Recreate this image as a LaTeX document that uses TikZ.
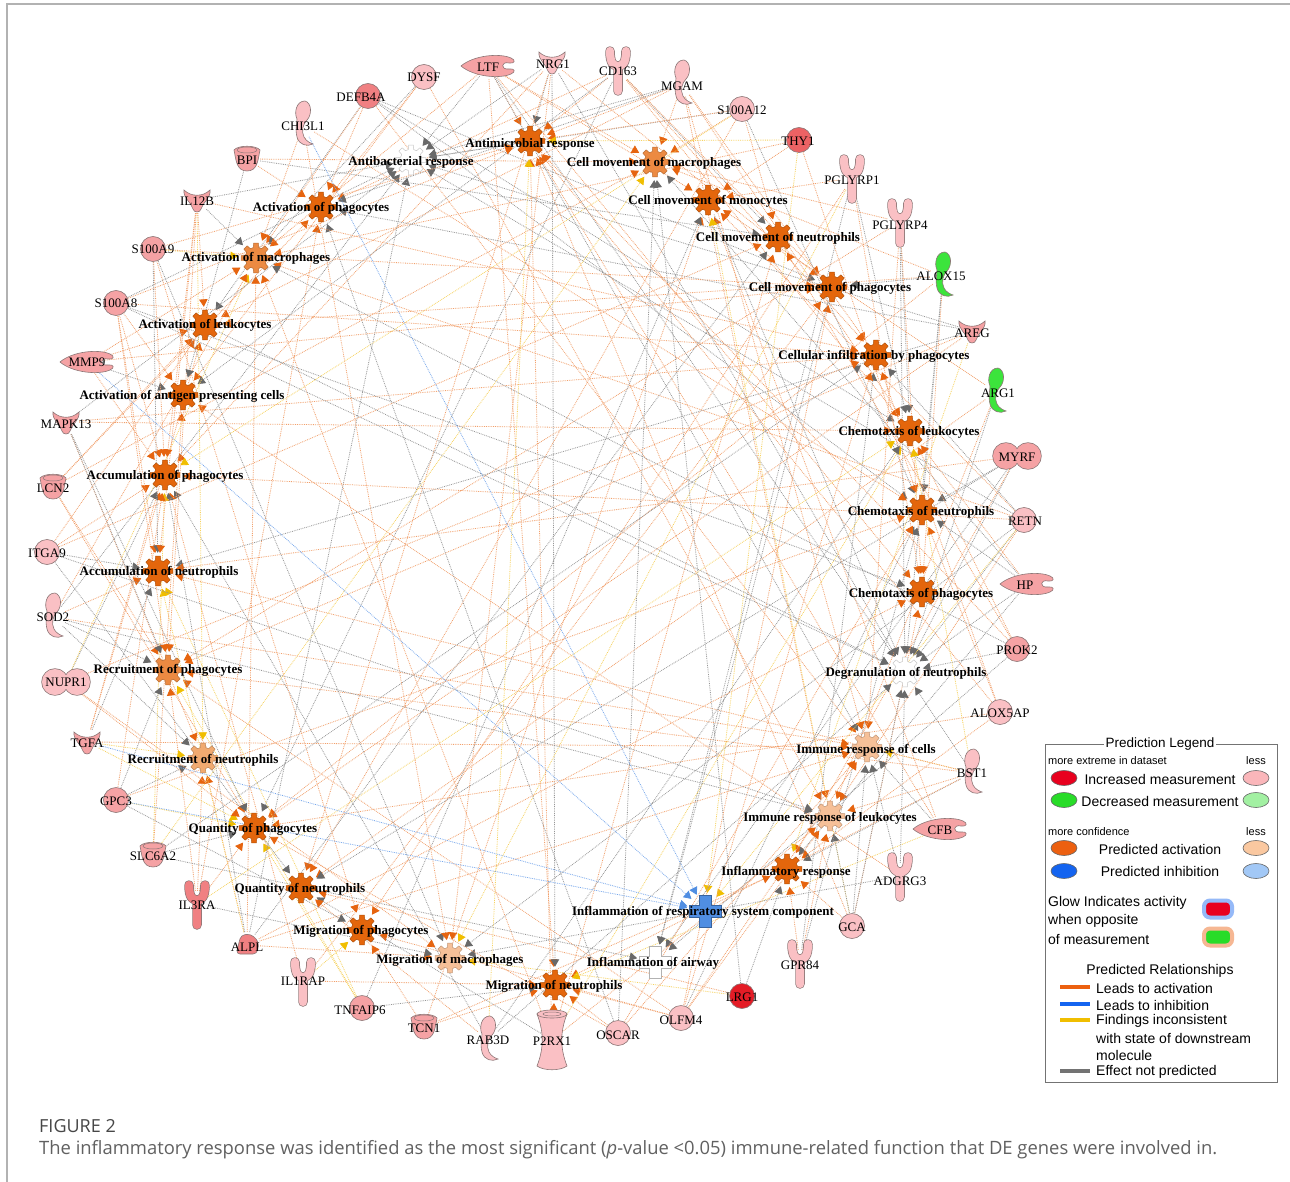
\documentclass[tikz,border=0pt]{standalone}
\usepackage{fontspec}
\setmainfont{Liberation Serif}
\newfontfamily\legfont{Liberation Sans}
\newfontfamily\capfont{Open Sans}
\usetikzlibrary{arrows.meta,shapes.geometric}
\pgfdeclarelayer{bgfill}
\pgfdeclarelayer{edges}
\pgfsetlayers{bgfill,edges,main}

\definecolor{pkL}{RGB}{250,192,196}
\definecolor{pkM}{RGB}{245,162,164}
\definecolor{pkMD}{RGB}{240,128,130}
\definecolor{pkD}{RGB}{236,98,100}
\definecolor{redG}{RGB}{228,28,38}
\definecolor{grn}{RGB}{60,228,60}
\definecolor{fOr}{RGB}{228,102,12}
\definecolor{fOrL}{RGB}{236,138,66}
\definecolor{fPe}{RGB}{246,192,152}
\definecolor{fPeD}{RGB}{241,170,112}
\definecolor{fBl}{RGB}{80,142,226}
\definecolor{eOr}{RGB}{242,160,108}
\definecolor{aOr}{RGB}{230,100,15}
\definecolor{eGy}{RGB}{150,150,150}
\definecolor{aGy}{RGB}{105,105,105}
\definecolor{eYe}{RGB}{247,210,95}
\definecolor{aYe}{RGB}{240,190,0}
\definecolor{eBl}{RGB}{120,168,236}
\definecolor{outl}{RGB}{140,118,118}
\definecolor{lgRed}{RGB}{232,0,30}
\definecolor{lgPink}{RGB}{250,182,186}
\definecolor{lgGrn}{RGB}{40,220,40}
\definecolor{lgGrnL}{RGB}{162,240,162}
\definecolor{lgOr}{RGB}{236,96,16}
\definecolor{lgPe}{RGB}{250,200,160}
\definecolor{lgBl}{RGB}{20,100,240}
\definecolor{lgBlL}{RGB}{162,200,246}

\tikzset{
  pics/genecirc/.style={code={\filldraw[fill=#1,draw=outl,line width=0.6pt] (0,0) circle (12.5);}},
  pics/recep/.style={code={
    \draw[line width=9.5pt,draw=outl,line cap=round,line join=round] (-8,-19) .. controls (-8,-6) and (-4,-4) .. (0,-4) .. controls (4,-4) and (8,-6) .. (8,-19) (0,-4) -- (0,21);
    \draw[line width=8.1pt,draw=#1,line cap=round,line join=round] (-8,-19) .. controls (-8,-6) and (-4,-4) .. (0,-4) .. controls (4,-4) and (8,-6) .. (8,-19) (0,-4) -- (0,21);}},
  pics/cresc/.style={code={
    \filldraw[fill=#1,draw=outl,line width=0.6pt] (2,-24) .. controls (9,-22) and (9,-10) .. (4,-5) .. controls (0,-1) and (-2,6) .. (1,12) .. controls (3,16) and (7,18) .. (10,19) .. controls (4,22) and (-4,20) .. (-6,12) .. controls (-8,4) and (-6,-2) .. (-6,-6) .. controls (-9,-12) and (-7,-24) .. (2,-24) -- cycle;}},
  pics/pept/.style={code={
    \filldraw[fill=#1,draw=outl,line width=0.6pt] (-27,0) .. controls (-14,-11) and (12,-13) .. (23,-8) .. controls (28,-6) and (27,-2) .. (21,-3) .. controls (13,-5) and (12,4) .. (21,3) .. controls (27,2) and (28,6) .. (23,8) .. controls (12,13) and (-14,11) .. (-27,0) -- cycle;}},
  pics/grow/.style={code={
    \filldraw[fill=#1,draw=outl,line width=0.6pt] (-13,-10) .. controls (-6,-3) and (6,-3) .. (13,-10) .. controls (14,-2) and (6,2) .. (4,9) .. controls (3,13) and (-3,13) .. (-4,9) .. controls (-6,2) and (-14,-2) .. (-13,-10) -- cycle;}},
  pics/trans/.style={code={
    \filldraw[fill=#1,draw=outl,line width=0.6pt] (-13,-9) .. controls (-11,0) and (-11,12) .. (0,12) .. controls (11,12) and (11,0) .. (13,-9) .. controls (9,-14) and (-9,-14) .. (-13,-9) -- cycle;
    \draw[outl,line width=0.5pt] (0,-9) ellipse (10 and 3);}},
  pics/treg/.style={code={
    \draw[outl,line width=1.4pt] (-11,0) circle (13) (11,0) circle (13);
    \fill[#1] (-11,0) circle (13) (11,0) circle (13);}},
  pics/ionch/.style={code={
    \filldraw[fill=#1,draw=outl,line width=0.6pt] (-15,-26) .. controls (-8,-8) and (-8,8) .. (-15,26) .. controls (-8,31) and (8,31) .. (15,26) .. controls (8,8) and (8,-8) .. (15,-26) -- cycle;
    \filldraw[fill=#1,draw=outl,line width=0.6pt] (0,-26) ellipse (15 and 4);
    \draw[outl,line width=0.5pt] (0,-26) ellipse (9 and 2);}},
  pics/phos/.style={code={
    \filldraw[fill=#1,draw=outl,line width=0.6pt,rounded corners=4pt] (-11,9) -- (-6,-10) -- (4,-11) -- (12,-3) -- (10,9) -- cycle;}},
  pics/gear/.style={code={
    \filldraw[fill=#1,draw=#1!78!black,line width=0.5pt] (-9:15) \foreach \a in {0,45,...,315}{ -- ({\a-9}:15) -- ({\a+9}:15) -- ({\a+14}:10.8) -- ({\a+31}:10.8) } -- cycle;}},
  pics/crossfn/.style={code={
    \filldraw[fill=#1,draw=#1!70!black,line width=0.6pt] (-6,-16) -- (6,-16) -- (6,-6) -- (16,-6) -- (16,6) -- (6,6) -- (6,16) -- (-6,16) -- (-6,6) -- (-16,6) -- (-16,-6) -- (-6,-6) -- cycle;}},
  gnode/.style={circle,minimum size=26pt,inner sep=0pt,draw=none},
  fnode/.style={circle,minimum size=31pt,inner sep=0pt,draw=none},
  glab/.style={inner sep=0pt,font=\fontsize{13}{15}\selectfont},
  flab/.style={inner sep=0pt,font=\bfseries\fontsize{13}{15}\selectfont},
  eb/.style={densely dotted,line width=0.8pt,shorten >=2.5pt},
  eor/.style={eb,draw=eOr,-{Triangle[length=7.5pt,width=8.5pt,color=aOr]}},
  egy/.style={eb,draw=eGy,-{Triangle[length=7.5pt,width=8.5pt,color=aGy]}},
  eye/.style={eb,draw=eYe,-{Triangle[length=7.5pt,width=8.5pt,color=aYe]}},
  ebl/.style={eb,draw=eBl,-{Triangle[length=7.5pt,width=8.5pt,color=fBl]}},
  lege/.style={ellipse,draw=black!60,line width=0.6pt,minimum width=26pt,minimum height=15pt,inner sep=0pt},
  legt/.style={inner sep=0pt,font=\legfont\fontsize{14}{16}\selectfont},
  legs/.style={inner sep=0pt,font=\legfont\fontsize{11}{13}\selectfont},
  legline/.style={line width=3.5pt}
}

\newcommand\mkgene[8]{\pic at (#2,#3) {#4=#5}; \node[gnode] (#1) at (#2,#3) {}; \node[glab] (#1l) at (#6,#7) {#8};}
\newcommand\mkfunc[7]{\pic at (#2,#3) {gear=#4}; \node[fnode] (#1) at (#2,#3) {}; \node[flab] (#1l) at (#5,#6) {#7};}
\newcommand\mkcross[7]{\pic at (#2,#3) {crossfn=#4}; \node[fnode] (#1) at (#2,#3) {}; \node[flab] (#1l) at (#5,#6) {#7};}

\begin{document}
\begin{tikzpicture}[x=1pt,y=-1pt]
\useasboundingbox (0,0) rectangle (1290,1182);
\begin{pgfonlayer}{bgfill}
\fill[white] (0,0) rectangle (1290,1182);
\draw[black!30,line width=1.2pt] (7,1182) -- (7,4) -- (1290,4);
\end{pgfonlayer}

% genes
\mkgene{g1}{368}{96}{genecirc}{pkMD}{361}{97}{DEFB4A}
\mkgene{g2}{424}{77}{genecirc}{pkL}{424}{77}{DYSF}
\mkgene{g3}{488}{66}{pept}{pkM}{488}{67}{LTF}
\mkgene{g4}{552}{62}{grow}{pkL}{553}{64}{NRG1}
\mkgene{g5}{618}{70}{recep}{pkL}{618}{71}{CD163}
\mkgene{g6}{682}{84}{cresc}{pkL}{682}{86}{MGAM}
\mkgene{g7}{742}{109}{genecirc}{pkL}{742}{110}{S100A12}
\mkgene{g8}{799}{140}{genecirc}{pkD}{798}{141}{THY1}
\mkgene{g9}{852}{178}{recep}{pkL}{852}{180}{PGLYRP1}
\mkgene{g10}{900}{222}{recep}{pkL}{900}{225}{PGLYRP4}
\mkgene{g11}{943}{276}{cresc}{grn}{941}{276}{ALOX15}
\mkgene{g12}{972}{331}{grow}{pkM}{972}{333}{AREG}
\mkgene{g13}{996}{392}{cresc}{grn}{998}{393}{ARG1}
\mkgene{g14}{1017}{456}{treg}{pkM}{1017}{457}{MYRF}
\mkgene{g15}{1024}{520}{genecirc}{pkL}{1025}{521}{RETN}
\mkgene{g16}{1027}{584}{pept}{pkM}{1025}{585}{HP}
\mkgene{g17}{1017}{649}{genecirc}{pkM}{1017}{650}{PROK2}
\mkgene{g18}{1000}{712}{genecirc}{pkL}{1000}{713}{ALOX5AP}
\mkgene{g19}{972}{773}{cresc}{pkL}{972}{773}{BST1}
\mkgene{g20}{940}{829}{pept}{pkM}{940}{830}{CFB}
\mkgene{g21}{900}{876}{recep}{pkL}{900}{881}{ADGRG3}
\mkgene{g22}{852}{926}{genecirc}{pkL}{852}{927}{GCA}
\mkgene{g23}{800}{963}{recep}{pkL}{800}{965}{GPR84}
\mkgene{g24}{742}{996}{genecirc}{redG}{742}{997}{LRG1}
\mkgene{g25}{681}{1018}{genecirc}{pkL}{681}{1020}{OLFM4}
\mkgene{g26}{618}{1033}{genecirc}{pkL}{618}{1035}{OSCAR}
\mkgene{g27}{552}{1040}{ionch}{pkL}{552}{1041}{P2RX1}
\mkgene{g28}{488}{1040}{cresc}{pkL}{488}{1040}{RAB3D}
\mkgene{g29}{424}{1027}{trans}{pkM}{424}{1028}{TCN1}
\mkgene{g30}{362}{1008}{genecirc}{pkM}{360}{1010}{TNFAIP6}
\mkgene{g31}{303}{981}{recep}{pkL}{303}{981}{IL1RAP}
\mkgene{g32}{247}{945}{phos}{pkMD}{247}{947}{ALPL}
\mkgene{g33}{197}{904}{recep}{pkMD}{197}{905}{IL3RA}
\mkgene{g34}{153}{855}{trans}{pkM}{153}{856}{SLC6A2}
\mkgene{g35}{116}{800}{genecirc}{pkM}{116}{801}{GPC3}
\mkgene{g36}{87}{742}{grow}{pkM}{87}{743}{TGFA}
\mkgene{g37}{66}{682}{treg}{pkL}{66}{682}{NUPR1}
\mkgene{g38}{53}{617}{cresc}{pkL}{53}{617}{SOD2}
\mkgene{g39}{47}{552}{genecirc}{pkL}{47}{553}{ITGA9}
\mkgene{g40}{53}{487}{trans}{pkM}{53}{488}{LCN2}
\mkgene{g41}{66}{422}{grow}{pkM}{66}{424}{MAPK13}
\mkgene{g42}{87}{362}{pept}{pkM}{87}{362}{MMP9}
\mkgene{g43}{116}{303}{genecirc}{pkM}{116}{303}{S100A8}
\mkgene{g44}{153}{249}{genecirc}{pkM}{153}{249}{S100A9}
\mkgene{g45}{197}{200}{grow}{pkM}{197}{201}{IL12B}
\mkgene{g46}{247}{159}{trans}{pkM}{247}{160}{BPI}
\mkgene{g47}{303}{125}{cresc}{pkL}{303}{126}{CHI3L1}

% functions
\mkfunc{f1}{411}{160}{white}{411}{162}{Antibacterial response}
\mkfunc{f2}{530}{141}{fOr}{530}{144}{Antimicrobial response}
\mkfunc{f3}{655}{162}{fOrL}{654}{163}{Cell movement of macrophages}
\mkfunc{f4}{708}{200}{fOr}{708}{201}{Cell movement of monocytes}
\mkfunc{f5}{778}{237}{fOr}{778}{238}{Cell movement of neutrophils}
\mkfunc{f6}{832}{287}{fOr}{830}{288}{Cell movement of phagocytes}
\mkfunc{f7}{876}{355}{fOr}{874}{356}{Cellular infiltration by phagocytes}
\mkfunc{f8}{910}{431}{fOr}{909}{432}{Chemotaxis of leukocytes}
\mkfunc{f9}{922}{510}{fOr}{921}{512}{Chemotaxis of neutrophils}
\mkfunc{f10}{922}{592}{fOr}{921}{594}{Chemotaxis of phagocytes}
\mkfunc{f11}{905}{672}{white}{906}{673}{Degranulation of neutrophils}
\mkfunc{f12}{867}{747}{fPe}{866}{750}{Immune response of cells}
\mkfunc{f13}{830}{816}{fPe}{830}{818}{Immune response of leukocytes}
\mkfunc{f14}{787}{869}{fOr}{786}{872}{Inflammatory response}
\mkcross{f15}{705}{911}{fBl}{703}{912}{Inflammation of respiratory system component}
\mkcross{f16}{655}{962}{white}{653}{963}{Inflammation of airway}
\mkfunc{f17}{555}{985}{fOr}{554}{986}{Migration of neutrophils}
\mkfunc{f18}{450}{958}{fPe}{450}{960}{Migration of macrophages}
\mkfunc{f19}{362}{930}{fOr}{361}{931}{Migration of phagocytes}
\mkfunc{f20}{301}{888}{fOr}{300}{889}{Quantity of neutrophils}
\mkfunc{f21}{254}{828}{fOr}{253}{829}{Quantity of phagocytes}
\mkfunc{f22}{203}{758}{fPeD}{203}{760}{Recruitment of neutrophils}
\mkfunc{f23}{168}{670}{fOrL}{168}{670}{Recruitment of phagocytes}
\mkfunc{f24}{158}{571}{fOr}{159}{572}{Accumulation of neutrophils}
\mkfunc{f25}{165}{475}{fOr}{165}{476}{Accumulation of phagocytes}
\mkfunc{f26}{183}{395}{fOr}{182}{396}{Activation of antigen presenting cells}
\mkfunc{f27}{205}{325}{fOr}{205}{325}{Activation of leukocytes}
\mkfunc{f28}{256}{258}{fOrL}{256}{258}{Activation of macrophages}
\mkfunc{f29}{321}{207}{fOr}{321}{208}{Activation of phagocytes}

% connectors
\begin{pgfonlayer}{edges}
\pgfmathsetseed{20231}
\foreach \i in {1,...,47}{
  \foreach \j in {1,...,29}{
    \pgfmathrandominteger{\sel}{0}{99}
    \pgfmathrandominteger{\col}{0}{99}
    \pgfmathsetmacro\dd{abs(\i/47-(\j-0.5)/29)}
    \pgfmathtruncatemacro\thr{(\j==15 || \j==16) ? 6 : ((min(\dd,1-\dd)<0.16) ? 40 : 14)}
    \ifnum\sel<\thr
      \ifnum\j=1 \draw[egy] (g\i) -- (f\j);
      \else\ifnum\j=11 \draw[egy] (g\i) -- (f\j);
      \else\ifnum\j=16 \draw[egy] (g\i) -- (f\j);
      \else\ifnum\j=15 \ifnum\col<60 \draw[ebl] (g\i) -- (f\j); \else \draw[eye] (g\i) -- (f\j); \fi
      \else\ifnum\col<28 \draw[egy] (g\i) -- (f\j);
      \else\ifnum\col<35 \draw[eye] (g\i) -- (f\j);
      \else \draw[eor] (g\i) -- (f\j);
      \fi\fi\fi\fi\fi\fi
    \fi
  }
}
\draw[ebl] (g36) -- (f15);
\draw[ebl] (g35) -- (f15);
\draw[ebl] (g42) -- (f15);
\draw[egy] (f2) -- (f1);
\draw[egy] (f4) -- (f11);
\draw[egy] (f27) -- (f11);
\draw[egy] (f6) -- (f16);
\end{pgfonlayer}

% legend
\node[draw=black!55,line width=0.8pt,fill=white,minimum width=232pt,minimum height=338pt,anchor=north west,inner sep=0pt] (legbox) at (1045,744) {};
\node[fill=white,inner sep=2pt,font=\legfont\fontsize{13.5}{16}\selectfont] (legtitle) at (1160,744) {Prediction Legend};
\node[legs,anchor=west] (lm1) at (1048,761) {more extreme in dataset};
\node[legs] (lm2) at (1256,761) {less};
\node[lege,fill=lgRed] (le1) at (1064,778) {};
\node[legt] (lt1) at (1160,779) {Increased measurement};
\node[lege,fill=lgPink] (le2) at (1256,778) {};
\node[lege,fill=lgGrn] (le3) at (1064,800) {};
\node[legt] (lt2) at (1160,801) {Decreased measurement};
\node[lege,fill=lgGrnL] (le4) at (1256,800) {};
\node[legs,anchor=west] (lm3) at (1048,832) {more confidence};
\node[legs] (lm4) at (1256,832) {less};
\node[lege,fill=lgOr] (le5) at (1064,848) {};
\node[legt] (lt3) at (1160,849) {Predicted activation};
\node[lege,fill=lgPe] (le6) at (1256,848) {};
\node[lege,fill=lgBl] (le7) at (1064,871) {};
\node[legt] (lt4) at (1160,871) {Predicted inhibition};
\node[lege,fill=lgBlL] (le8) at (1256,871) {};
\node[legt,anchor=west] (lg1) at (1048,903) {Glow Indicates activity};
\node[legt,anchor=west] (lg2) at (1048,921) {when opposite};
\node[legt,anchor=west] (lg3) at (1048,939) {of measurement};
\node[rounded corners=6pt,draw=lgBl!45,line width=4pt,fill=lgRed,minimum width=28pt,minimum height=17pt,inner sep=0pt] (gl1) at (1218,909) {};
\node[rounded corners=6pt,draw=lgOr!45,line width=4pt,fill=lgGrn,minimum width=28pt,minimum height=17pt,inner sep=0pt] (gl2) at (1218,937) {};
\node[legt] (lr0) at (1160,971) {Predicted Relationships};
\draw[legline,draw=lgOr] (1060,987) -- (1090,987);
\node[legt,anchor=west] (lr1) at (1096,988) {Leads to activation};
\draw[legline,draw=lgBl] (1060,1004) -- (1090,1004);
\node[legt,anchor=west] (lr2) at (1096,1005) {Leads to inhibition};
\draw[legline,draw=aYe] (1060,1020) -- (1090,1020);
\node[legt,anchor=west] (lr3) at (1096,1021) {Findings inconsistent};
\node[legt,anchor=west] (lr4) at (1096,1038) {with state of downstream};
\node[legt,anchor=west] (lr5) at (1096,1055) {molecule};
\draw[legline,draw=black!55] (1060,1071) -- (1090,1071);
\node[legt,anchor=west] (lr6) at (1096,1072) {Effect not predicted};

% caption
\node[anchor=west,inner sep=0pt,text=black!72,font=\capfont\fontsize{18}{20}\selectfont] (figno) at (39,1126) {FIGURE 2};
\node[anchor=west,inner sep=0pt,text=black!62] (captext) at (39,1150) {\resizebox{1178pt}{!}{\capfont\fontsize{15}{18}\selectfont The inflammatory response was identified as the most significant (\textit{p}-value <0.05) immune-related function that DE genes were involved in.}};
\end{tikzpicture}
\end{document}
